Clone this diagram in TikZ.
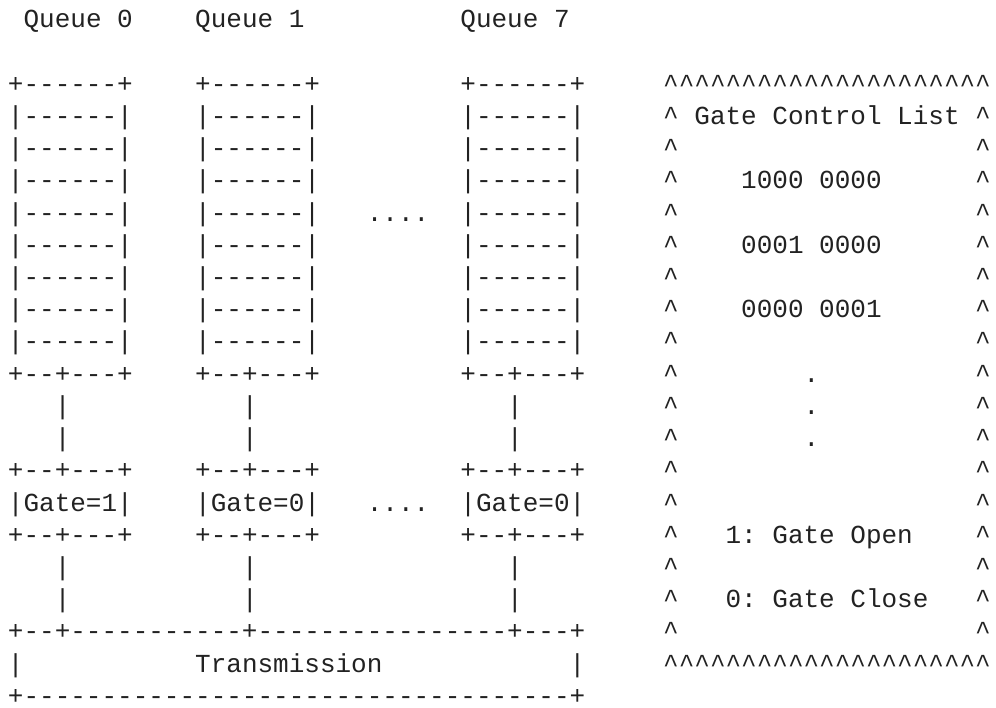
\documentclass[tikz,border=0pt]{standalone}
\usepackage{fontspec}
\setmonofont{Liberation Mono}
\definecolor{ink}{RGB}{34,34,34}
\newcommand\hatthree{\textasciicircum\textasciicircum\textasciicircum}
\newcommand\hatrow{\hatthree\hatthree\hatthree\hatthree\hatthree\hatthree\hatthree}
\tikzset{ascii/.style={anchor=base west, inner sep=0pt, outer sep=0pt, text=ink,
  font=\ttfamily\fontsize{26}{26}\selectfont}}
\newcommand\ascnode[4]{\node[ascii] (#1) at ({8+15.6*(#2)},{-28-32.2*((#3)-1)}) {#4};}
\begin{document}
\begin{tikzpicture}[x=1pt,y=1pt]
\useasboundingbox[fill=white] (0,0) rectangle (996,-708);
% queue titles
\ascnode{q0}{1}{1}{Queue 0}
\ascnode{q1}{12}{1}{Queue 1}
\ascnode{q7}{29}{1}{Queue 7}
% queues and gates
\foreach \c/\n in {0/0,12/1,29/7} {
  \ascnode{top\n}{\c}{3}{+------+}
  \foreach \r in {4,...,11} {\ascnode{slot\n-\r}{\c}{\r}{|------|}}
  \ascnode{bot\n}{\c}{12}{+--+---+}
  \ascnode{la\n}{\c+3}{13}{|}
  \ascnode{lb\n}{\c+3}{14}{|}
  \ascnode{gtop\n}{\c}{15}{+--+---+}
  \ascnode{gbot\n}{\c}{17}{+--+---+}
  \ascnode{lc\n}{\c+3}{18}{|}
  \ascnode{ld\n}{\c+3}{19}{|}
}
\ascnode{gate0}{0}{16}{|Gate=1|}
\ascnode{gate1}{12}{16}{|Gate=0|}
\ascnode{gate7}{29}{16}{|Gate=0|}
\ascnode{dotsA}{23}{7}{....}
\ascnode{dotsB}{23}{16}{....}
% transmission
\ascnode{txtop}{0}{20}{+--+-----------+----------------+---+}
\ascnode{txl}{0}{21}{|}
\ascnode{tx}{12}{21}{Transmission}
\ascnode{txr}{36}{21}{|}
\ascnode{txbot}{0}{22}{+-----------------------------------+}
% gate control list
\ascnode{gcltop}{42}{3}{\hatrow}
\ascnode{gcltitle}{42}{4}{\textasciicircum{} Gate Control List \textasciicircum}
\foreach \r in {5,...,20} {
  \ascnode{gl\r}{42}{\r}{\textasciicircum}
  \ascnode{gr\r}{62}{\r}{\textasciicircum}
}
\ascnode{gclbot}{42}{21}{\hatrow}
\ascnode{e1}{47}{6}{1000 0000}
\ascnode{e2}{47}{8}{0001 0000}
\ascnode{e3}{47}{10}{0000 0001}
\ascnode{d1}{51}{12}{.}
\ascnode{d2}{51}{13}{.}
\ascnode{d3}{51}{14}{.}
\ascnode{open}{46}{17}{1: Gate Open}
\ascnode{close}{46}{19}{0: Gate Close}
\end{tikzpicture}
\end{document}
